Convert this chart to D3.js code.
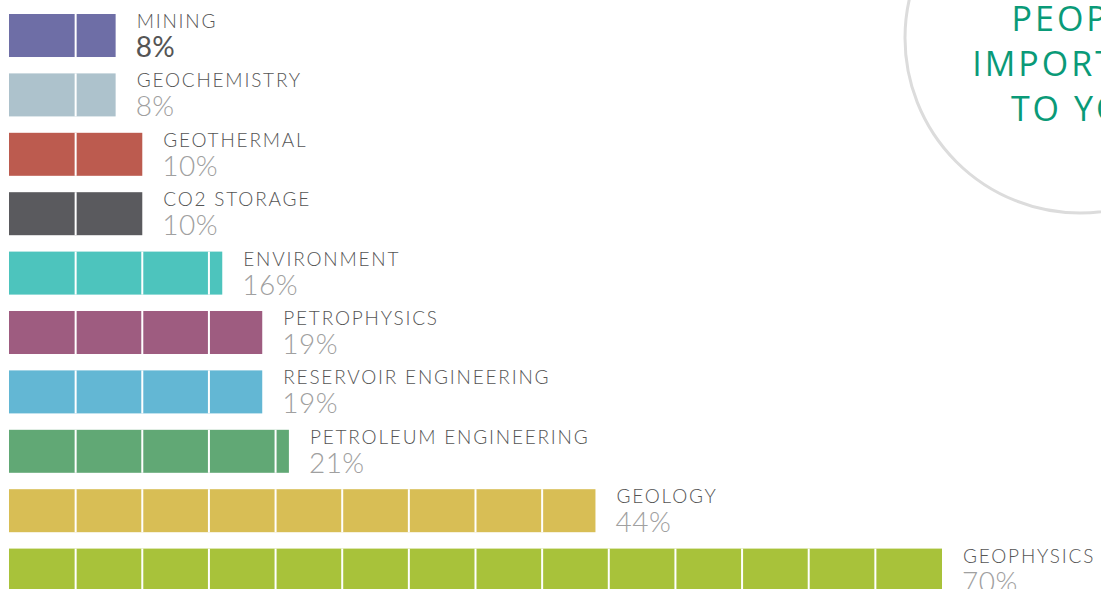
<!DOCTYPE html>
<html lang="en">
<head>
  <meta charset="UTF-8" />
  <title>Disciplines</title>
  <script src="https://d3js.org/d3.v7.min.js"></script>
  <style>
    body { margin: 0; padding: 0; background: #fff; overflow: hidden; }
    svg { display: block; }
    .name { font-family: Lato, "Open Sans", sans-serif; font-weight: 300; font-size: 19px; fill: #555; letter-spacing: 1.8px; }
    .pct { font-family: Lato, "Open Sans", sans-serif; font-weight: 300; font-size: 28px; fill: #a0a0a0; letter-spacing: 0.5px; }
    .pct.first { font-weight: 400; fill: #555; }
    .title { font-family: "Open Sans", sans-serif; font-size: 34px; fill: #0a9a78; letter-spacing: 3px; }
  </style>
</head>
<body>
  <svg width="1101" height="589"></svg>
  <script>
    const categories = ["MINING", "GEOCHEMISTRY", "GEOTHERMAL", "CO2 STORAGE", "ENVIRONMENT",
      "PETROPHYSICS", "RESERVOIR ENGINEERING", "PETROLEUM ENGINEERING", "GEOLOGY", "GEOPHYSICS"];
    const values = [8, 8, 10, 10, 16, 19, 19, 21, 44, 70];
    const colors = ["#6e6ea6", "#adc2cc", "#bc5b4f", "#5a5a5e", "#4dc4bd",
      "#9e5c80", "#63b7d4", "#61a875", "#d8be55", "#a8c23a"];
    const titleLines = ["PEOPLE", "IMPORTANT", "TO YOU"];

    const svg = d3.select("svg");

    const x = d3.scaleLinear().domain([0, 70]).range([9, 942]);
    const y = d3.scaleBand().domain(categories).range([14, 591.6]).paddingInner(0.276);
    const step = 5; // each block is 5%

    // circle top right
    svg.append("circle")
      .attr("cx", 1080).attr("cy", 38).attr("r", 175)
      .attr("fill", "none").attr("stroke", "#dcdcdc").attr("stroke-width", 3);

    svg.selectAll("text.title")
      .data(titleLines)
      .join("text")
      .attr("class", "title")
      .attr("x", 1082)
      .attr("y", (d, i) => 31 + i * 45)
      .attr("text-anchor", "middle")
      .text(d => d);

    const rows = svg.selectAll("g.row")
      .data(categories.map((c, i) => ({ name: c, value: values[i], color: colors[i], i })))
      .join("g")
      .attr("class", "row")
      .attr("transform", d => `translate(0,${y(d.name)})`);

    rows.append("rect")
      .attr("x", x(0))
      .attr("y", 0)
      .attr("width", d => x(d.value) - x(0))
      .attr("height", y.bandwidth())
      .attr("fill", d => d.color);

    // white dividers between 5% blocks
    rows.each(function (d) {
      const ticks = d3.range(step, d.value, step);
      d3.select(this).selectAll("line")
        .data(ticks)
        .join("line")
        .attr("x1", t => x(t)).attr("x2", t => x(t))
        .attr("y1", 0).attr("y2", y.bandwidth())
        .attr("stroke", "#fff").attr("stroke-width", 2);
    });

    rows.append("text")
      .attr("class", "name")
      .attr("x", d => x(d.value) + 21)
      .attr("y", 14)
      .text(d => d.name);

    rows.append("text")
      .attr("class", d => d.i === 0 ? "pct first" : "pct")
      .attr("x", d => x(d.value) + 20)
      .attr("y", y.bandwidth())
      .text(d => d.value + "%");
  </script>
</body>
</html>
